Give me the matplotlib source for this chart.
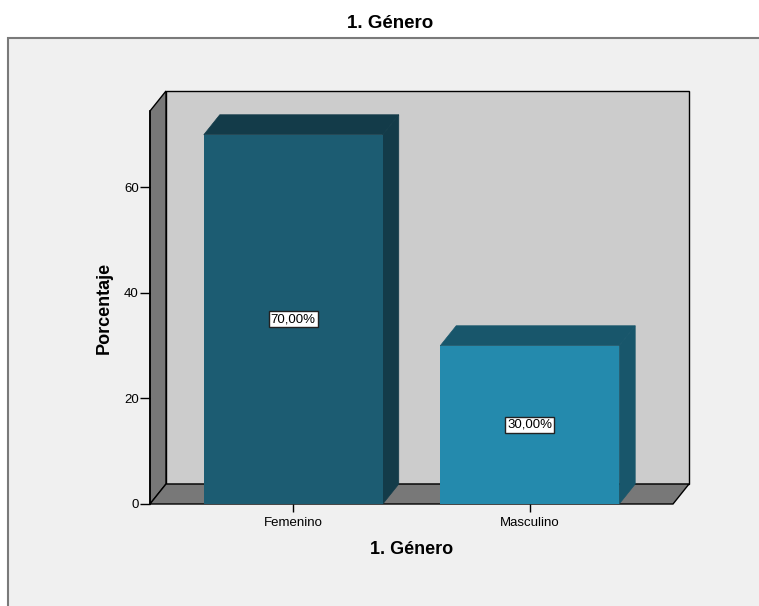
import matplotlib.pyplot as plt
from matplotlib.patches import Polygon, Rectangle

plt.rcParams['font.family'] = ['Liberation Sans', 'DejaVu Sans']

categories = ['Femenino', 'Masculino']
percentages = [70.0, 30.0]
yticks = [0, 20, 40, 60]

front_colors = ['#1c5c72', '#248aad']
dark_colors = ['#133b49', '#18566b']

fig = plt.figure(figsize=(7.59, 6.06), dpi=100)
fig.patch.set_facecolor('white')

# outer frame like the SPSS viewer
fig.add_artist(Rectangle((8 / 759, -0.1), 1.0, (606 - 38) / 606 + 0.1,
                         transform=fig.transFigure, facecolor='#f0f0f0',
                         edgecolor='#7a7a7a', lw=1.5, zorder=-5))

ax = fig.add_axes([150 / 759, (606 - 504) / 606, 523 / 759, 393 / 606])
ax.set_facecolor('none')
xlim = (-0.606, 1.606)
ylim = (0, 74.5)
ax.set_xlim(*xlim)
ax.set_ylim(*ylim)

# depth of the 3d effect in data units (about 16px right, 20px up)
ddx = 16 / 236.5
ddy = 20 / 5.28
width = 0.757

def poly(pts, fc, z, ec='black', lw=1.0):
    ax.add_patch(Polygon(pts, closed=True, facecolor=fc, edgecolor=ec,
                         lw=lw, zorder=z, clip_on=False))

x0, x1 = xlim
y0, y1 = ylim
# back wall
poly([(x0 + ddx, y0 + ddy), (x1 + ddx, y0 + ddy), (x1 + ddx, y1 + ddy), (x0 + ddx, y1 + ddy)], '#cccccc', 0.5)
# left wall
poly([(x0, y0), (x0 + ddx, y0 + ddy), (x0 + ddx, y1 + ddy), (x0, y1)], '#787878', 0.6)
# floor
poly([(x0, y0), (x1, y0), (x1 + ddx, y0 + ddy), (x0 + ddx, y0 + ddy)], '#787878', 0.6)

xs = range(len(categories))
for x, v, fc, dc in zip(xs, percentages, front_colors, dark_colors):
    l, r = x - width / 2, x + width / 2
    poly([(r, 0), (r + ddx, ddy), (r + ddx, v + ddy), (r, v)], dc, 1, ec=dc, lw=0.5)
    poly([(l, v), (r, v), (r + ddx, v + ddy), (l + ddx, v + ddy)], dc, 1, ec=dc, lw=0.5)

ax.bar(list(xs), percentages, width=width, color=front_colors, zorder=2)

for x, v in zip(xs, percentages):
    ax.text(x, v / 2, ('%.2f' % v).replace('.', ',') + '%', ha='center', va='center',
            fontsize=9.5, zorder=3,
            bbox=dict(boxstyle='square,pad=0.15', facecolor='white', edgecolor='#222222', lw=1))

for s in ['top', 'right', 'bottom']:
    ax.spines[s].set_visible(False)
ax.spines['left'].set_linewidth(1.2)
ax.spines['left'].set_zorder(0.7)

ax.set_yticks(yticks)
ax.set_xticks(list(xs))
ax.set_xticklabels(categories)
ax.tick_params(axis='y', direction='out', length=7, width=1, labelsize=9.5, pad=1)
ax.tick_params(axis='x', direction='out', length=6, width=1, labelsize=9.5, pad=3)

ax.set_ylabel('Porcentaje', fontsize=13, fontweight='bold', labelpad=8)
ax.set_xlabel('1. Género', fontsize=13, fontweight='bold', labelpad=9)
fig.text(390 / 759, 1 - 24 / 606, '1. Género', ha='center', va='center',
         fontsize=13.5, fontweight='bold')

fig.savefig('out.png', dpi=100)
